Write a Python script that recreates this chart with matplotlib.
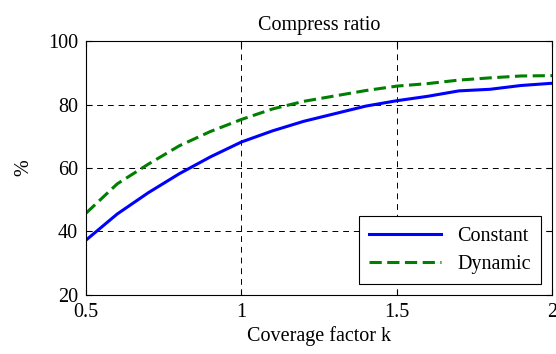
import matplotlib
matplotlib.use('Agg')
import matplotlib.pyplot as plt

plt.rcParams['font.family'] = ['Liberation Serif', 'DejaVu Serif']

# coverage factor k
k = [0.5, 0.6, 0.7, 0.8, 0.9, 1.0, 1.1, 1.2, 1.3, 1.4, 1.5, 1.6, 1.7, 1.8, 1.9, 2.0]
constant = [37.3, 45.5, 52.2, 58.2, 63.5, 68.2, 71.7, 74.7, 77.1, 79.5, 81.2, 82.6, 84.3, 84.8, 86.0, 86.7]
dynamic = [45.8, 55.0, 61.2, 67.0, 71.5, 75.3, 78.6, 81.0, 82.7, 84.4, 85.8, 86.6, 87.7, 88.4, 89.0, 89.1]

fs = 14.5

fig = plt.figure(figsize=(5.56, 3.54), dpi=100)
ax = fig.add_axes([0.155, 0.167, 0.838, 0.717])

ax.plot(k, constant, color='#0000ff', lw=2.2, label='Constant')
ax.plot(k, dynamic, color='#007f00', lw=2.2, ls=(0, (4, 1.8)), label='Dynamic')

ax.set_xlim(0.5, 2)
ax.set_ylim(20, 100)
ax.set_xticks([0.5, 1, 1.5, 2])
ax.set_xticklabels(['0.5', '1', '1.5', '2'])
ax.set_yticks([20, 40, 60, 80, 100])
ax.tick_params(direction='in', top=True, right=True, labelsize=fs, length=4.5, pad=6)
ax.grid(True, color='black', ls=(0, (6, 5)), lw=0.7)

ax.set_title('Compress ratio', fontsize=fs, pad=8)
ax.set_xlabel('Coverage factor k', fontsize=fs, labelpad=3)
ax.set_ylabel('%', fontsize=fs, labelpad=10)

leg = ax.legend(loc='lower right', fontsize=fs, fancybox=False, edgecolor='black',
                framealpha=1, borderaxespad=0.55, handlelength=3.6, borderpad=0.5,
                labelspacing=0.45)
leg.get_frame().set_linewidth(0.8)

fig.savefig('out.png', dpi=100)
